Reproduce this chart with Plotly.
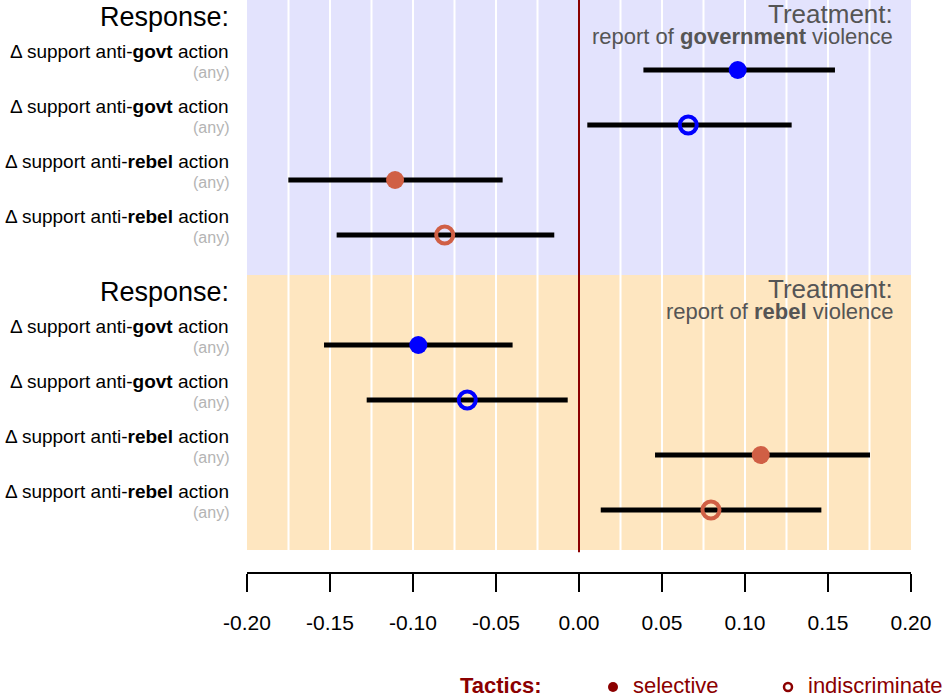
import plotly.graph_objects as go

# ---- data -------------------------------------------------------------
treatments = ["government", "rebel"]
response_targets = ["govt", "govt", "rebel", "rebel"]
tactics = ["selective", "indiscriminate", "selective", "indiscriminate"]

# report of government violence
est_gov = [0.0956, 0.0658, -0.1108, -0.0809]
lo_gov = [0.0388, 0.0050, -0.1751, -0.1460]
hi_gov = [0.1542, 0.1281, -0.0460, -0.0149]

# report of rebel violence
est_reb = [-0.0968, -0.0673, 0.1095, 0.0795]
lo_reb = [-0.1536, -0.1279, 0.0458, 0.0131]
hi_reb = [-0.0400, -0.0068, 0.1753, 0.1460]

x_ticks = [-0.20, -0.15, -0.10, -0.05, 0.00, 0.05, 0.10, 0.15, 0.20]

# ---- styling ----------------------------------------------------------
FONT = "Liberation Sans, Arial, Helvetica, sans-serif"
DARKRED = "#8B0000"
TARGET_COLOR = {"govt": "#0000FF", "rebel": "#D05F45"}
PANEL_BG = ["#E3E3FD", "#FEE6C0"]
ROWS_PER_PANEL = 5          # one heading slot + four estimate rows
Y_TOP, Y_BOT = -0.2727, 10.127
PLOT_L, PLOT_W, PLOT_H = 247, 664, 572
LABEL_X = (231 - PLOT_L) / PLOT_W
RIGHT_X = (895 - PLOT_L) / PLOT_W


def px_to_paper_x(px):
    return (px - PLOT_L) / PLOT_W


def px_to_paper_y(py):
    return (PLOT_H - py) / PLOT_H


fig = go.Figure()
shapes = []
annotations = []

panel_data = [(est_gov, lo_gov, hi_gov), (est_reb, lo_reb, hi_reb)]

for p, (treat, (est, lo, hi)) in enumerate(zip(treatments, panel_data)):
    top = p * ROWS_PER_PANEL + Y_TOP
    bot = top + ROWS_PER_PANEL
    shapes.append(dict(type="rect", xref="x", yref="y", x0=-0.2, x1=0.2,
                       y0=top, y1=bot, fillcolor=PANEL_BG[p],
                       line=dict(width=0), layer="below"))

    head = p * ROWS_PER_PANEL
    annotations.append(dict(xref="paper", yref="y", x=LABEL_X, y=head + 0.03,
                            text="Response:", showarrow=False, xanchor="right",
                            yanchor="middle",
                            font=dict(family=FONT, size=27, color="black")))
    annotations.append(dict(xref="paper", yref="y", x=RIGHT_X, y=head - 0.01,
                            text="Treatment:", showarrow=False, xanchor="right",
                            yanchor="middle",
                            font=dict(family=FONT, size=26, color="#555555")))
    annotations.append(dict(xref="paper", yref="y", x=RIGHT_X, y=head + 0.39,
                            text=f"report of <b>{treat}</b> violence",
                            showarrow=False, xanchor="right", yanchor="middle",
                            font=dict(family=FONT, size=22, color="#555555")))

    for r in range(4):
        yi = head + 1 + r
        target = response_targets[r]
        color = TARGET_COLOR[target]
        fig.add_trace(go.Scatter(x=[lo[r], hi[r]], y=[yi, yi], mode="lines",
                                 line=dict(color="black", width=5),
                                 hoverinfo="skip"))
        if tactics[r] == "selective":
            marker = dict(symbol="circle", size=18, color=color,
                          line=dict(width=0))
        else:
            marker = dict(symbol="circle-open", size=17, color=color,
                          line=dict(width=4, color=color))
        fig.add_trace(go.Scatter(x=[est[r]], y=[yi], mode="markers",
                                 marker=marker))
        annotations.append(dict(xref="paper", yref="y", x=LABEL_X,
                                y=yi - 0.33,
                                text=f"\u0394 support anti-<b>{target}</b> action",
                                showarrow=False, xanchor="right",
                                yanchor="middle",
                                font=dict(family=FONT, size=19, color="black")))
        annotations.append(dict(xref="paper", yref="y", x=LABEL_X,
                                y=yi + 0.04, text="(any)", showarrow=False,
                                xanchor="right", yanchor="middle",
                                font=dict(family=FONT, size=16,
                                          color="#B4B4B4")))

# white guide lines every 0.025
panel_bottom = Y_TOP + 2 * ROWS_PER_PANEL
for k in range(-7, 8):
    if k == 0:
        continue
    xv = k * 0.025
    shapes.append(dict(type="line", xref="x", yref="y", x0=xv, x1=xv,
                       y0=Y_TOP, y1=panel_bottom,
                       line=dict(color="white", width=2), layer="below"))

# reference line at zero
shapes.append(dict(type="line", xref="x", yref="y", x0=0, x1=0,
                   y0=Y_TOP, y1=panel_bottom + 0.04,
                   line=dict(color=DARKRED, width=2), layer="below"))

# ---- tactics key ------------------------------------------------------
key_y = px_to_paper_y(685)
annotations.append(dict(xref="paper", yref="paper", x=px_to_paper_x(458),
                        y=key_y, text="<b>Tactics:</b>", showarrow=False,
                        xanchor="left", yanchor="middle",
                        font=dict(family=FONT, size=22, color=DARKRED)))
annotations.append(dict(xref="paper", yref="paper", x=px_to_paper_x(631),
                        y=key_y, text="selective", showarrow=False,
                        xanchor="left", yanchor="middle",
                        font=dict(family=FONT, size=22, color=DARKRED)))
annotations.append(dict(xref="paper", yref="paper", x=px_to_paper_x(806),
                        y=key_y, text="indiscriminate", showarrow=False,
                        xanchor="left", yanchor="middle",
                        font=dict(family=FONT, size=22, color=DARKRED)))
key_dot_y = px_to_paper_y(687)
shapes.append(dict(type="circle", xref="paper", yref="paper",
                   xsizemode="pixel", ysizemode="pixel",
                   xanchor=px_to_paper_x(613), yanchor=key_dot_y,
                   x0=-5, x1=5, y0=-5, y1=5,
                   fillcolor=DARKRED, line=dict(width=0)))
shapes.append(dict(type="circle", xref="paper", yref="paper",
                   xsizemode="pixel", ysizemode="pixel",
                   xanchor=px_to_paper_x(788), yanchor=key_dot_y,
                   x0=-4, x1=4, y0=-4, y1=4,
                   fillcolor="rgba(0,0,0,0)",
                   line=dict(width=2.5, color=DARKRED)))

fig.update_layout(
    width=944, height=698,
    margin=dict(l=PLOT_L, r=944 - PLOT_L - PLOT_W, t=0, b=698 - PLOT_H, pad=0),
    plot_bgcolor="white", paper_bgcolor="white",
    showlegend=False,
    shapes=shapes,
    annotations=annotations,
    xaxis=dict(range=[-0.2, 0.2], tickvals=x_ticks,
               ticktext=[f"{v:.2f}" for v in x_ticks],
               ticks="outside", ticklen=18, tickwidth=2, tickcolor="black",
               showline=True, linewidth=2, linecolor="black",
               showgrid=False, zeroline=False, ticklabelstandoff=13,
               tickfont=dict(family=FONT, size=21, color="black"),
               fixedrange=True),
    yaxis=dict(range=[Y_BOT, Y_TOP], visible=False, fixedrange=True),
)

fig.write_html("out.html")
